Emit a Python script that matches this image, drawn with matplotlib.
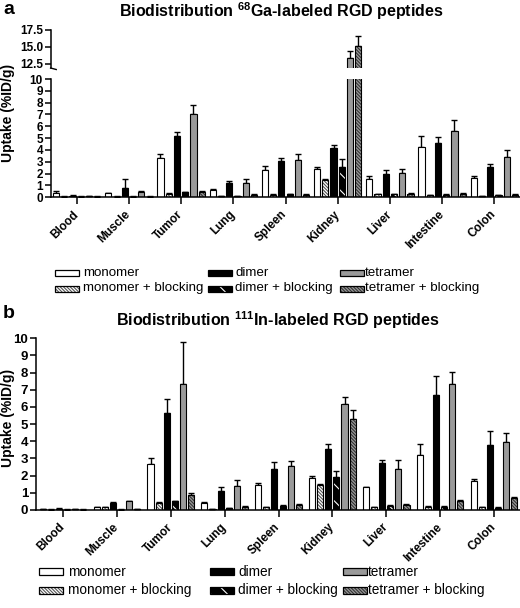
import matplotlib
matplotlib.use('Agg')
import matplotlib.pyplot as plt
from matplotlib.patches import Rectangle
import matplotlib.transforms as mtransforms
import numpy as np

plt.rcParams['font.family'] = ['Liberation Sans', 'DejaVu Sans']
plt.rcParams['mathtext.fontset'] = 'custom'
plt.rcParams['mathtext.rm'] = 'Liberation Sans:bold'
plt.rcParams['mathtext.bf'] = 'Liberation Sans:bold'
plt.rcParams['hatch.linewidth'] = 0.8

organs = ['Blood', 'Muscle', 'Tumor', 'Lung', 'Spleen', 'Kidney', 'Liver', 'Intestine', 'Colon']
series_names = ['monomer', 'monomer + blocking', 'dimer', 'dimer + blocking',
                'tetramer', 'tetramer + blocking']

# ---- Panel a: 68Ga ----
ga_monomer = [0.34, 0.34, 3.30, 0.62, 2.31, 2.37, 1.52, 4.23, 1.60]
ga_monomer_err = [0.22, 0.05, 0.33, 0.05, 0.31, 0.19, 0.28, 0.92, 0.20]
ga_monomer_block = [0.05, 0.05, 0.31, 0.08, 0.22, 1.49, 0.28, 0.17, 0.11]
ga_monomer_block_err = [0.02, 0.02, 0.03, 0.02, 0.03, 0.08, 0.03, 0.03, 0.02]
ga_dimer = [0.15, 0.76, 5.21, 1.18, 3.04, 4.17, 2.00, 4.62, 2.56]
ga_dimer_err = [0.03, 0.76, 0.28, 0.23, 0.31, 0.22, 0.31, 0.45, 0.26]
ga_dimer_block = [0.05, 0.05, 0.42, 0.08, 0.25, 2.54, 0.25, 0.22, 0.17]
ga_dimer_block_err = [0.02, 0.02, 0.05, 0.02, 0.03, 0.73, 0.03, 0.03, 0.02]
ga_tetramer = [0.08, 0.45, 7.07, 1.21, 3.15, 13.4, 2.03, 5.63, 3.44]
ga_tetramer_err = [0.02, 0.08, 0.70, 0.31, 0.48, 1.0, 0.34, 0.93, 0.59]
ga_tetramer_block = [0.06, 0.05, 0.45, 0.22, 0.22, 15.1, 0.31, 0.31, 0.22]
ga_tetramer_block_err = [0.02, 0.02, 0.05, 0.03, 0.03, 1.5, 0.03, 0.03, 0.03]

# ---- Panel b: 111In ----
in_monomer = [0.03, 0.17, 2.70, 0.43, 1.48, 1.86, 1.32, 3.20, 1.71]
in_monomer_err = [0.01, 0.02, 0.30, 0.04, 0.07, 0.14, 0.04, 0.66, 0.12]
in_monomer_block = [0.02, 0.17, 0.43, 0.05, 0.15, 1.44, 0.15, 0.19, 0.15]
in_monomer_block_err = [0.01, 0.02, 0.04, 0.01, 0.02, 0.06, 0.02, 0.02, 0.02]
in_dimer = [0.07, 0.40, 5.63, 1.13, 2.41, 3.57, 2.72, 6.68, 3.79]
in_dimer_err = [0.02, 0.04, 0.86, 0.19, 0.39, 0.27, 0.21, 1.11, 0.79]
in_dimer_block = [0.02, 0.02, 0.50, 0.10, 0.25, 1.92, 0.25, 0.19, 0.13]
in_dimer_block_err = [0.01, 0.01, 0.05, 0.02, 0.02, 0.33, 0.02, 0.02, 0.02]
in_tetramer = [0.05, 0.50, 7.34, 1.40, 2.56, 6.17, 2.41, 7.34, 3.94]
in_tetramer_err = [0.01, 0.04, 2.45, 0.35, 0.27, 0.41, 0.50, 0.72, 0.55]
in_tetramer_block = [0.02, 0.05, 0.85, 0.20, 0.30, 5.32, 0.31, 0.52, 0.68]
in_tetramer_block_err = [0.01, 0.01, 0.12, 0.05, 0.03, 0.52, 0.03, 0.06, 0.10]

ga_vals = [ga_monomer, ga_monomer_block, ga_dimer, ga_dimer_block, ga_tetramer, ga_tetramer_block]
ga_errs = [ga_monomer_err, ga_monomer_block_err, ga_dimer_err, ga_dimer_block_err,
           ga_tetramer_err, ga_tetramer_block_err]
in_vals = [in_monomer, in_monomer_block, in_dimer, in_dimer_block, in_tetramer, in_tetramer_block]
in_errs = [in_monomer_err, in_monomer_block_err, in_dimer_err, in_dimer_block_err,
           in_tetramer_err, in_tetramer_block_err]

GRAY = '#9a9a9a'
DENSE = '\\' * 10
SPARSE = '\\' * 2
# (face, hatch, hatch colour)
styles = [
    ('white', None, None),
    ('white', DENSE, '#555555'),
    ('black', None, None),
    ('black', SPARSE, 'white'),
    (GRAY, None, None),
    (GRAY, DENSE, '#333333'),
]

W, H = 520, 608
fig = plt.figure(figsize=(W / 100, H / 100), dpi=100)


def ax_px(left, right, top, bottom):
    return fig.add_axes([left / W, 1 - bottom / H, (right - left) / W, (bottom - top) / H])


def draw_bars(ax, vals, errs, step, width):
    x = np.arange(len(organs))
    for i, (v, e) in enumerate(zip(vals, errs)):
        face, hatch, hcol = styles[i]
        pos = x + (i - 2.5) * step
        ax.errorbar(pos, v, yerr=[np.zeros(len(e)), e], fmt='none', ecolor='black',
                    elinewidth=1.0, capsize=2, capthick=1.0, zorder=1)
        if hatch:
            ax.bar(pos, v, width, color=face, edgecolor=hcol, hatch=hatch, linewidth=0, zorder=2)
            ax.bar(pos, v, width, fill=False, edgecolor='black', linewidth=0.8, zorder=3)
        else:
            ax.bar(pos, v, width, color=face, edgecolor='black', linewidth=0.8, zorder=2)


def style_ax(ax, fs):
    for s in ['top', 'right']:
        ax.spines[s].set_visible(False)
    for s in ['left', 'bottom']:
        ax.spines[s].set_linewidth(1.1)
    ax.tick_params(axis='both', direction='out', width=1.1, length=4, labelsize=fs, pad=1.5)
    for lab in ax.get_yticklabels():
        lab.set_fontweight('bold')


def organ_labels(ax):
    ax.set_xticks(range(len(organs)))
    ax.set_xticklabels(organs, rotation=45, ha='right', fontsize=8.5, fontweight='bold')
    ax.tick_params(axis='x', length=5, pad=3)
    off = mtransforms.ScaledTranslation(4 / 100, 0, fig.dpi_scale_trans)
    for lab in ax.get_xticklabels():
        lab.set_transform(lab.get_transform() + off)


# ---------- Panel a ----------
axa = ax_px(50.6, 520.4, 79, 197.3)
axa_top = ax_px(50.6, 520.4, 30, 68)
for ax in (axa, axa_top):
    draw_bars(ax, ga_vals, ga_errs, 0.158, 0.118)
    ax.set_xlim(-0.5, 8.5)
axa.set_ylim(0, 10)
axa_top.set_ylim(11.9, 17.5)
axa.set_yticks(range(0, 11))
axa_top.set_yticks([12.5, 15.0, 17.5])
axa_top.set_yticklabels(['12.5', '15.0', '17.5'])
style_ax(axa, 8.5)
style_ax(axa_top, 8.5)
axa_top.spines['bottom'].set_visible(False)
axa_top.set_xticks([])
organ_labels(axa)
# break mark
axa_top.plot([0, 0.012], [0, -0.04], transform=axa_top.transAxes, color='black',
             lw=1.0, clip_on=False)
fig.text(8 / W, 1 - 113 / H, 'Uptake (%ID/g)', rotation=90, ha='center', va='center',
         fontsize=10, fontweight='bold')
fig.text(281 / W, 1 - 11 / H, r'Biodistribution $^{\mathbf{68}}$Ga-labeled RGD peptides',
         ha='center', va='center', fontsize=11.5, fontweight='bold')
fig.text(3 / W, 1 - 9 / H, 'a', ha='left', va='center', fontsize=14, fontweight='bold')

# ---------- Panel b ----------
axb = ax_px(36, 521, 338.3, 510)
draw_bars(axb, in_vals, in_errs, 0.15, 0.112)
axb.set_xlim(-0.5, 8.5)
axb.set_ylim(0, 10)
axb.set_yticks(range(0, 11))
style_ax(axb, 9.5)
organ_labels(axb)
fig.text(8 / W, 1 - 418 / H, 'Uptake (%ID/g)', rotation=90, ha='center', va='center',
         fontsize=10, fontweight='bold')
fig.text(278 / W, 1 - 320 / H, r'Biodistribution $^{\mathbf{111}}$In-labeled RGD peptides',
         ha='center', va='center', fontsize=11.5, fontweight='bold')
fig.text(3 / W, 1 - 313 / H, 'b', ha='left', va='center', fontsize=14, fontweight='bold')


# ---------- Legends ----------
def legend(patch_x, text_x, rows_y, pw, ph, fs):
    order = [(0, 0), (0, 1), (1, 0), (1, 1), (2, 0), (2, 1)]
    for i, (c, r) in enumerate(order):
        face, hatch, hcol = styles[i]
        x0, y0 = patch_x[c], rows_y[r]
        if hatch:
            fig.add_artist(Rectangle((x0 / W, 1 - (y0 + ph / 2) / H), pw / W, ph / H,
                                     transform=fig.transFigure, facecolor=face,
                                     edgecolor=hcol, hatch=hatch, linewidth=0))
        fig.add_artist(Rectangle((x0 / W, 1 - (y0 + ph / 2) / H), pw / W, ph / H,
                                 transform=fig.transFigure,
                                 facecolor='none' if hatch else face,
                                 edgecolor='black', linewidth=0.9))
        fig.text(text_x[c] / W, 1 - y0 / H, series_names[i], ha='left', va='center',
                 fontsize=fs)


legend([55, 208, 340], [83, 235, 365], [272.7, 288.5], 24, 6, 9.6)
legend([39, 210, 343], [68, 238, 368], [571.7, 590], 24, 7, 9.8)

fig.savefig('out.png', dpi=100)
